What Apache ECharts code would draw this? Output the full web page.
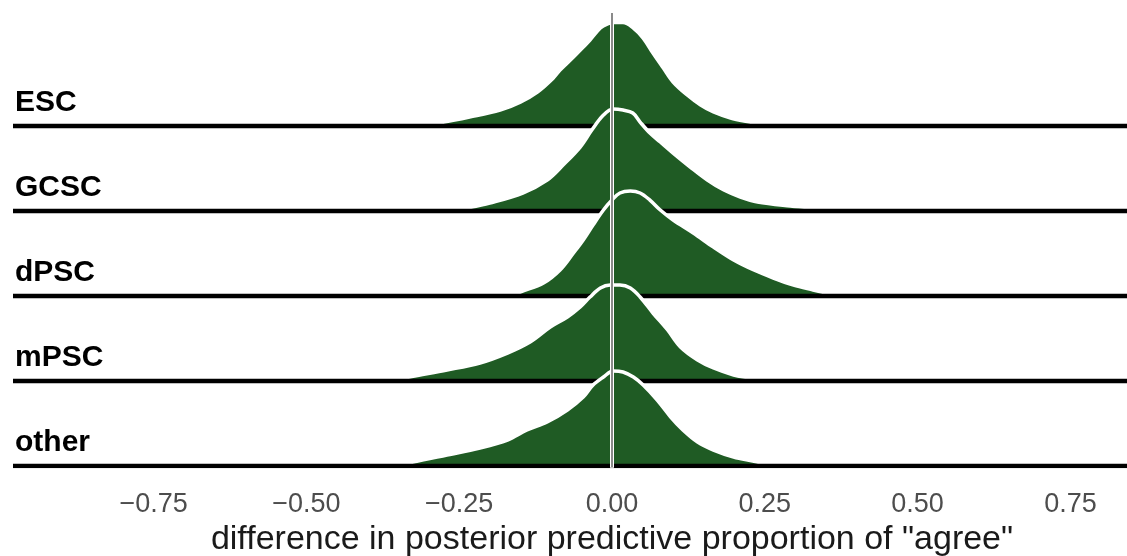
<!DOCTYPE html>
<html>
<head>
<meta charset="utf-8">
<script src="https://cdn.jsdelivr.net/npm/echarts@6/dist/echarts.min.js"></script>
<style>
  html, body { margin: 0; padding: 0; background: #fff; overflow: hidden; }
  #chart { width: 1127px; height: 556px; }
</style>
</head>
<body>
<div id="chart"></div>
<script>
// rows from bottom to top
const groups = ['other', 'mPSC', 'dPSC', 'GCSC', 'ESC']
const xTicks = [-0.75, -0.5, -0.25, 0, 0.25, 0.5, 0.75]

// density heights, in units of the gap between two baselines
const escX = [-0.312, -0.290, -0.233, -0.183, -0.150, -0.122, -0.096, -0.085, -0.063, -0.047, -0.036, -0.019, -0.008, 0.002, 0.018, 0.035, 0.051, 0.067, 0.084, 0.100, 0.123, 0.145, 0.166, 0.194, 0.232, 0.250]
const escH = [0, 0.025, 0.106, 0.188, 0.282, 0.40, 0.565, 0.659, 0.812, 0.929, 1.012, 1.153, 1.20, 1.218, 1.218, 1.153, 1.035, 0.859, 0.682, 0.518, 0.365, 0.247, 0.165, 0.094, 0.035, 0]

const gcscX = [-0.265, -0.237, -0.200, -0.146, -0.106, -0.080, -0.052, -0.033, -0.014, 0.002, 0.018, 0.034, 0.046, 0.062, 0.079, 0.100, 0.128, 0.156, 0.183, 0.210, 0.238, 0.292, 0.346, 0.380]
const gcscH = [0, 0.035, 0.094, 0.212, 0.365, 0.541, 0.753, 0.953, 1.129, 1.20, 1.188, 1.153, 1.047, 0.918, 0.812, 0.682, 0.518, 0.365, 0.247, 0.165, 0.106, 0.059, 0.024, 0]

const dpscX = [-0.165, -0.150, -0.112, -0.085, -0.063, -0.047, -0.031, -0.014, 0.000, 0.013, 0.030, 0.046, 0.062, 0.079, 0.100, 0.133, 0.166, 0.199, 0.232, 0.264, 0.297, 0.329, 0.370]
const dpscH = [0, 0.047, 0.153, 0.306, 0.506, 0.659, 0.835, 1.012, 1.129, 1.212, 1.235, 1.212, 1.129, 1.012, 0.894, 0.741, 0.576, 0.424, 0.306, 0.212, 0.129, 0.071, 0]

const mpscX = [-0.360, -0.331, -0.270, -0.216, -0.171, -0.134, -0.101, -0.073, -0.052, -0.036, -0.019, -0.003, 0.013, 0.030, 0.046, 0.067, 0.091, 0.112, 0.140, 0.166, 0.199, 0.226, 0.248]
const mpscH = [0, 0.047, 0.129, 0.212, 0.329, 0.459, 0.635, 0.753, 0.871, 0.988, 1.094, 1.129, 1.129, 1.094, 0.988, 0.80, 0.60, 0.40, 0.247, 0.153, 0.071, 0.035, 0]

const otherX = [-0.368, -0.325, -0.270, -0.216, -0.171, -0.139, -0.106, -0.073, -0.047, -0.031, -0.014, 0.002, 0.018, 0.035, 0.051, 0.074, 0.096, 0.116, 0.140, 0.166, 0.199, 0.238, 0.258]
const otherH = [0, 0.047, 0.129, 0.212, 0.306, 0.424, 0.518, 0.659, 0.812, 0.953, 1.047, 1.118, 1.106, 1.047, 0.953, 0.776, 0.576, 0.424, 0.282, 0.188, 0.106, 0.047, 0]

const ridges = {
  ESC: [escX, escH],
  GCSC: [gcscX, gcscH],
  dPSC: [dpscX, dpscH],
  mPSC: [mpscX, mpscH],
  other: [otherX, otherH]
}

const X_MIN = -0.98
const X_MAX = 0.98
const Y_MAX = 5.33
const FILL = '#1f5b24'
const FONT = 'Liberation Sans, Arial, sans-serif'

const series = []
// top row first so the lower ridges cover the upper baselines
for (let row = groups.length - 1; row >= 0; row--) {
  const name = groups[row]
  const [xs, hs] = ridges[name]
  const z = (groups.length - row) * 2
  series.push({
    name: name,
    type: 'line',
    z: z,
    data: xs.map((x, i) => [x, row + hs[i]]),
    symbol: 'none',
    smooth: 0.35,
    lineStyle: { color: '#fff', width: 3.5 },
    areaStyle: { color: FILL, opacity: 1, origin: row },
    silent: true
  })
  series.push({
    name: name + ' baseline',
    type: 'line',
    z: z + 1,
    data: [[X_MIN, row], [X_MAX, row]],
    symbol: 'none',
    lineStyle: { color: '#000', width: 4.5, cap: 'butt' },
    silent: true
  })
}

// reference line at zero
series.push({
  type: 'line', z: 30, symbol: 'none', silent: true,
  data: [[0, -0.02], [0, Y_MAX]],
  lineStyle: { color: '#fff', width: 4 }
})
series.push({
  type: 'line', z: 31, symbol: 'none', silent: true,
  data: [[0, -0.02], [0, Y_MAX]],
  lineStyle: { color: '#8a8a8a', width: 2 }
})

const chart = echarts.init(document.getElementById('chart'))
chart.setOption({
  animation: false,
  backgroundColor: '#fff',
  // panel runs past the right edge of the picture
  grid: {
    left: 13, right: -84, top: 13, bottom: 90,
    containLabel: false,
    outerBoundsMode: 'none'
  },
  xAxis: {
    type: 'value',
    min: X_MIN,
    max: X_MAX,
    axisLine: { show: false },
    axisTick: { show: false },
    splitLine: { show: false },
    axisLabel: {
      customValues: xTicks,
      formatter: v => (v < 0 ? '\u2212' : '') + Math.abs(v).toFixed(2),
      color: '#4d4d4d',
      fontSize: 27,
      fontFamily: FONT,
      margin: 25
    },
    name: 'difference in posterior predictive proportion of "agree"',
    nameLocation: 'middle',
    nameGap: 54,
    nameTextStyle: { color: '#1a1a1a', fontSize: 34, fontFamily: FONT }
  },
  yAxis: {
    type: 'value',
    min: 0,
    max: Y_MAX,
    interval: 1,
    axisLine: { show: false },
    axisTick: { show: false },
    splitLine: { show: false },
    axisLabel: {
      inside: true,
      formatter: v => groups[v] || '',
      align: 'left',
      verticalAlign: 'bottom',
      padding: [0, 0, 8, 0],
      margin: 2,
      color: '#000',
      fontWeight: 'bold',
      fontSize: 30,
      fontFamily: FONT
    }
  },
  series: series
})
</script>
</body>
</html>
